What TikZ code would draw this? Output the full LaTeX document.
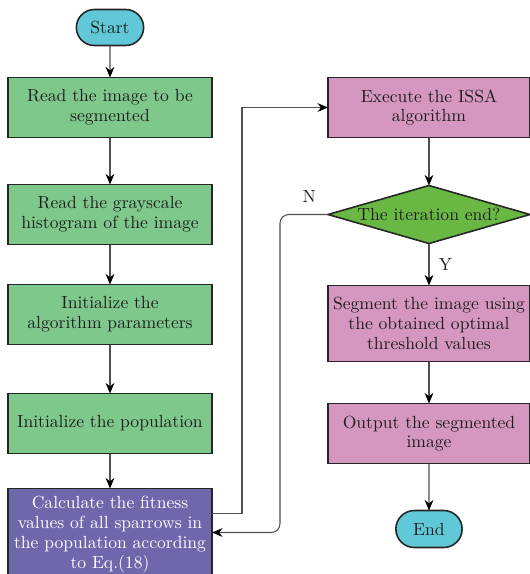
\documentclass[tikz,border=0pt]{standalone}
\usepackage{xcolor}
\usepackage{tikz}
\usetikzlibrary{positioning,arrows.meta,shapes.geometric,shapes.misc}

\definecolor{termc}{RGB}{96,200,214}
\definecolor{greenc}{RGB}{126,200,140}
\definecolor{purplec}{RGB}{110,103,172}
\definecolor{pinkc}{RGB}{213,150,192}
\definecolor{diac}{RGB}{106,184,68}
\definecolor{linec}{RGB}{80,80,80}
\definecolor{textc}{RGB}{30,30,30}

\begin{document}
\begin{tikzpicture}[
  font=\fontsize{10}{11.2}\selectfont, >=Stealth,
  node distance=0.9cm,
  term/.style={draw=black!85, line width=0.9pt, rounded rectangle, fill=termc, outer sep=0pt,
               minimum width=1.58cm, minimum height=0.72cm, text=textc},
  pbox/.style={draw=black!85, line width=0.9pt, fill=greenc, text=textc, outer sep=0pt,
               minimum width=4.08cm, minimum height=1.2cm, align=center, inner sep=0pt},
  rbox/.style={pbox, fill=pinkc, minimum width=4.04cm},
  dec/.style={draw=black!85, line width=0.9pt, diamond, aspect=3.5, fill=diac, outer sep=0pt,
              minimum width=4.04cm, minimum height=1.16cm, inner sep=0pt, text=textc},
  arr/.style={->, line width=0.6pt, color=linec, >={Stealth[length=6pt,width=5pt,black]}},
]
\useasboundingbox (0,0) rectangle (10.58,-11.48);

% left column
\node[term] (start) at (2.2,-0.55) {Start};
\node[pbox, below=0.64cm of start] (read) {Read the image to be\\segmented};
\node[pbox, below=0.94cm of read] (hist) {Read the grayscale\\histogram of the image};
\node[pbox, below=0.8cm of hist] (param) {Initialize the\\algorithm parameters};
\node[pbox, below=0.98cm of param] (pop) {Initialize the population};
\node[pbox, below=0.7cm of pop, fill=purplec, text=white, minimum height=1.84cm] (fit)
  {Calculate the fitness\\values of all sparrows in\\the population according\\to Eq.(18)};

% right column
\node[rbox, right=2.32cm of read] (issa) {Execute the ISSA\\algorithm};
\node[dec, below=0.96cm of issa] (iter) {The iteration end?};
\node[rbox, below=0.84cm of iter, minimum height=1.52cm] (seg)
  {Segment the image using\\the obtained optimal\\threshold values};
\node[rbox, below=0.84cm of seg] (out) {Output the segmented\\image};
\node[term, below=0.94cm of out, minimum width=1.56cm, minimum height=0.74cm] (end) {End};

\draw[arr] (start)--(read); \draw[arr] (read)--(hist);
\draw[arr] (hist)--(param); \draw[arr] (param)--(pop);
\draw[arr] (pop)--(fit);
\draw[arr] ([yshift=4.2mm]fit.east) -- ++(0.6,0) |- (issa.west);
\draw[arr] (issa)--(iter);
\draw[arr] (iter)-- node[right, text=textc, xshift=2pt] {Y} (seg);
\draw[arr] (seg)--(out); \draw[arr] (out)--(end);
\draw[arr, rounded corners=5pt] (iter.west) -- ++(-0.96,0) |- ([yshift=0.4mm]fit.east);
\node[text=textc, above left=0.12cm and 0.12cm of iter.west] (nlab) {N};
\end{tikzpicture}
\end{document}
